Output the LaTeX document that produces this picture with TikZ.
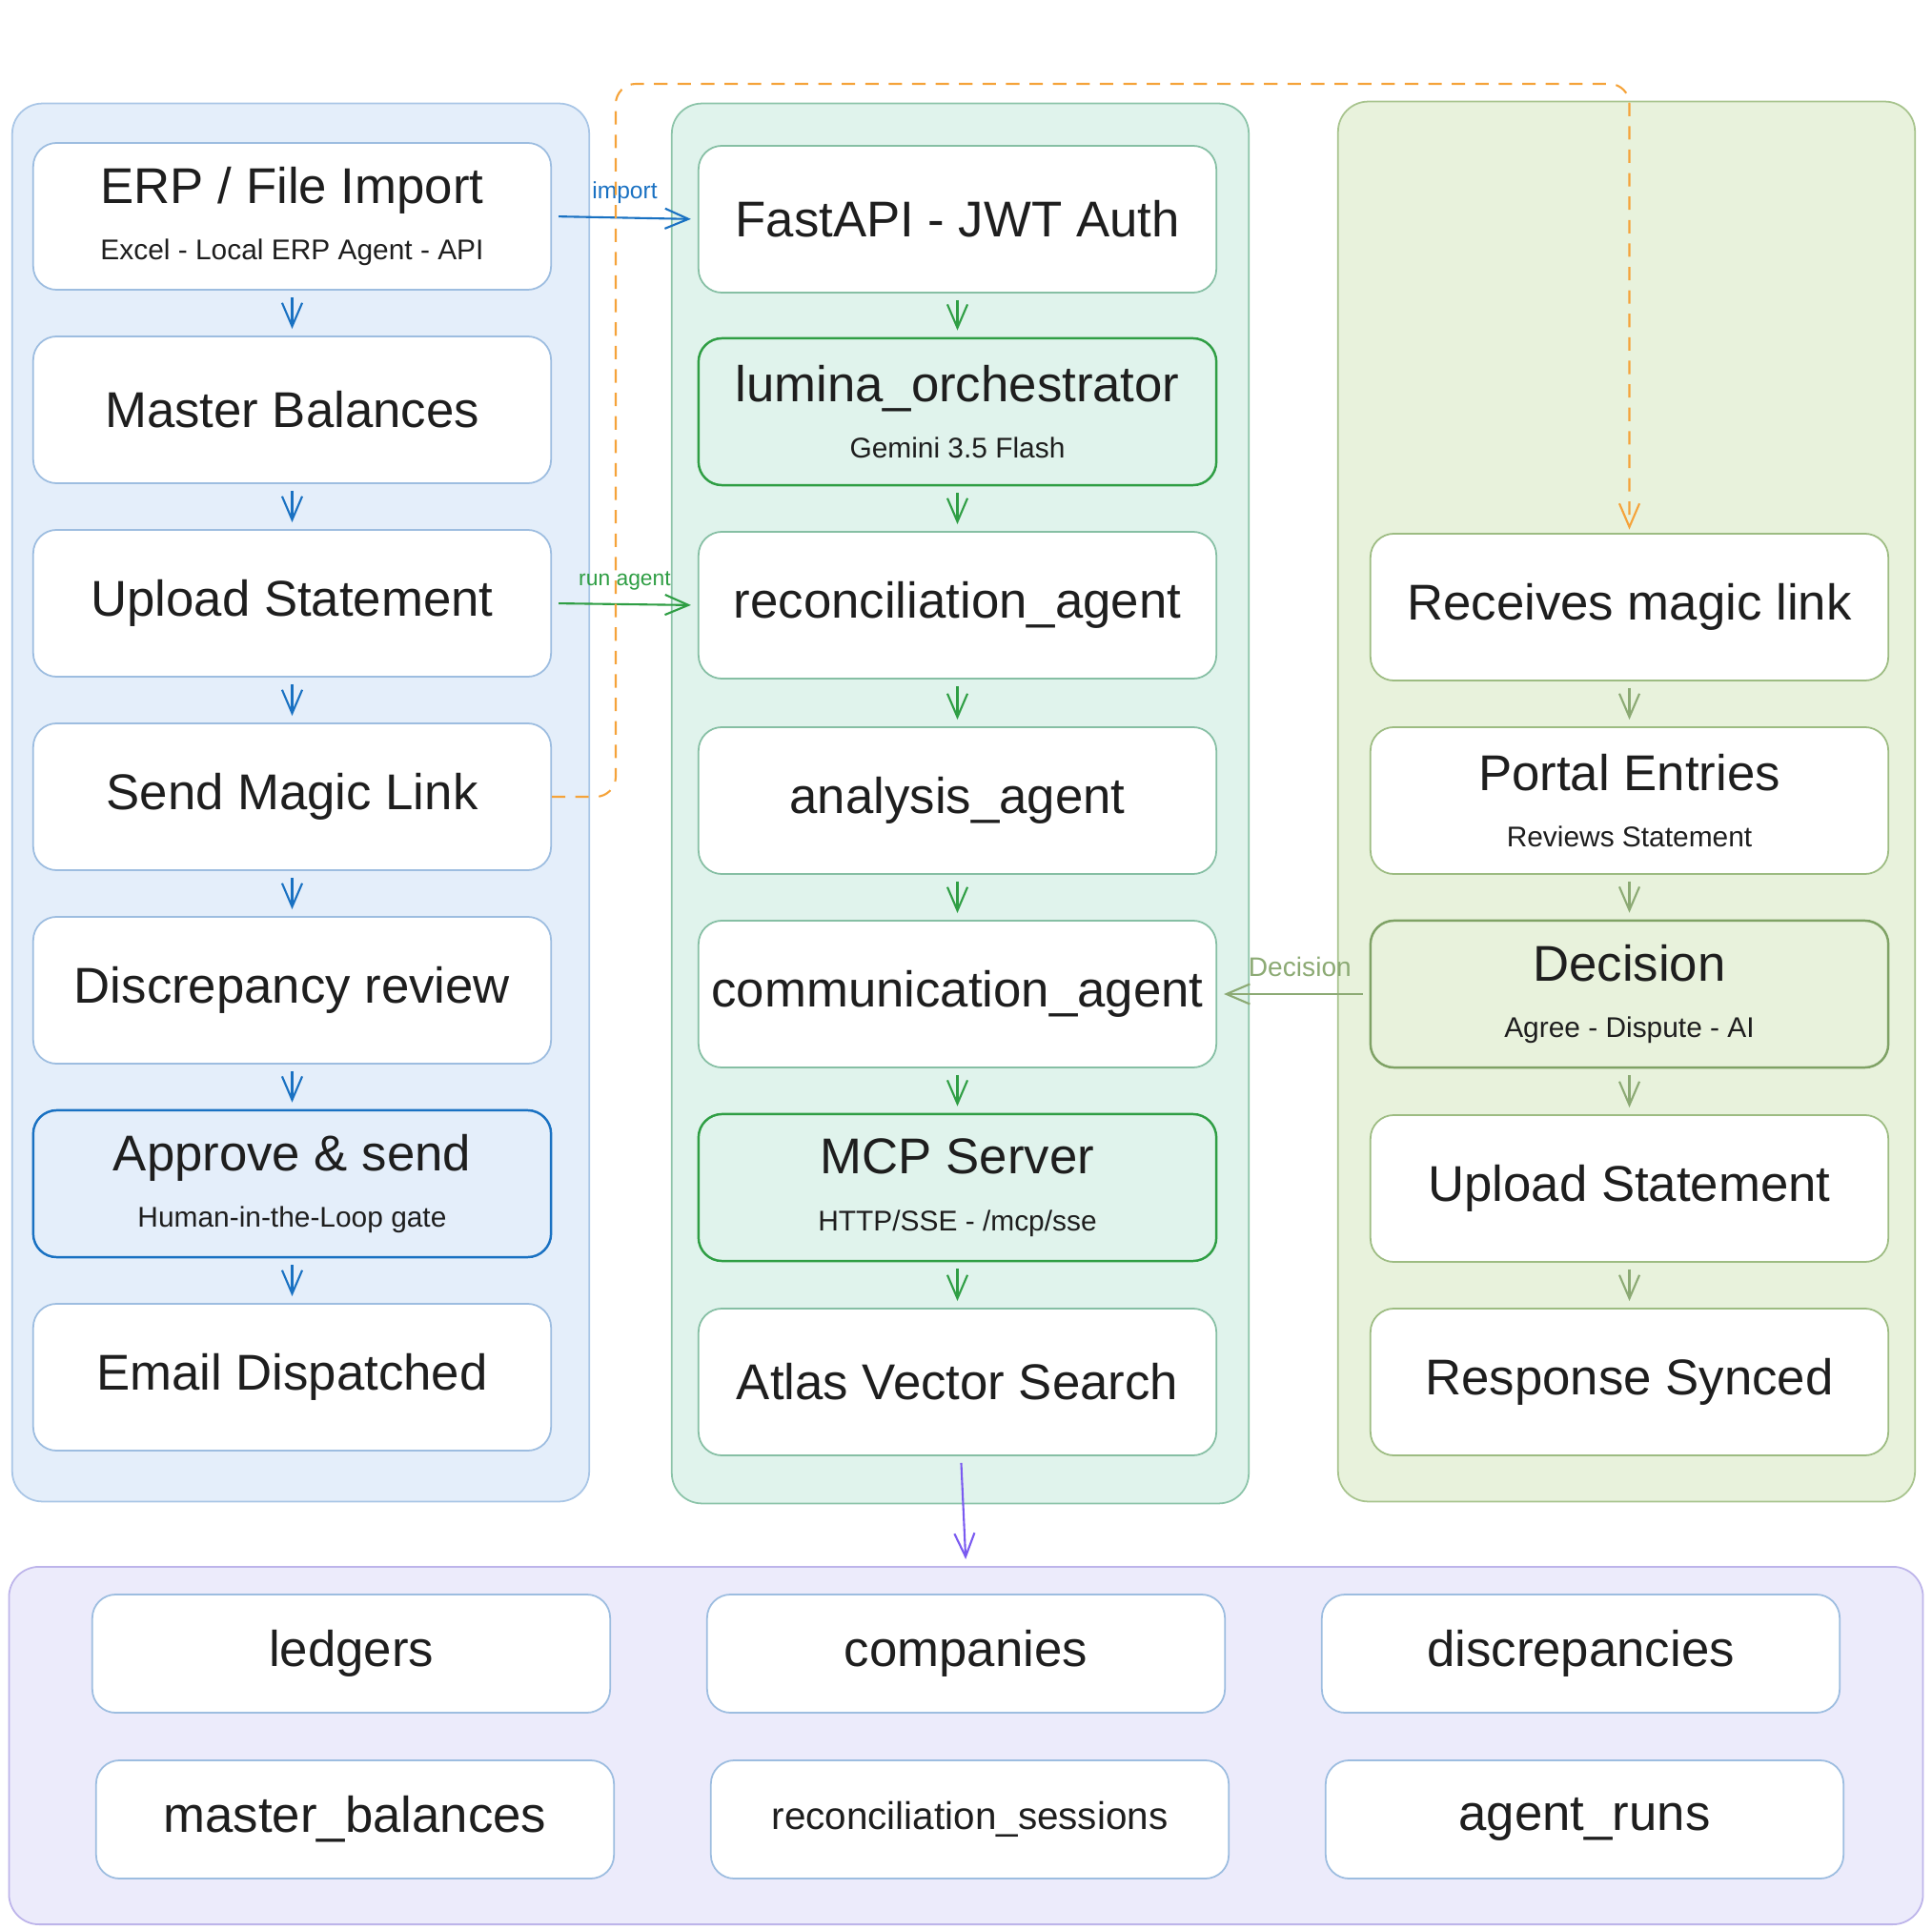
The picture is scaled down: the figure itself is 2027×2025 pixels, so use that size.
\documentclass[tikz,border=0pt]{standalone}
\usepackage{fontspec}
\setmainfont{Liberation Sans}
\usetikzlibrary{arrows.meta}

\definecolor{ink}{HTML}{1E1E1E}
\definecolor{bluefill}{HTML}{E4EEFA}
\definecolor{bluelane}{HTML}{A9C6E6}
\definecolor{bluebd}{HTML}{9DBDE0}
\definecolor{bluedark}{HTML}{1971C2}
\definecolor{tealfill}{HTML}{E0F3EC}
\definecolor{teallane}{HTML}{8CC4A9}
\definecolor{tealbd}{HTML}{86BFA4}
\definecolor{greendark}{HTML}{2F9E44}
\definecolor{olivefill}{HTML}{E8F2DC}
\definecolor{olivelane}{HTML}{A8C48E}
\definecolor{olivebd}{HTML}{9DBC82}
\definecolor{olivedark}{HTML}{7FA265}
\definecolor{olivearrow}{HTML}{8CAA74}
\definecolor{lavfill}{HTML}{ECEBFB}
\definecolor{lavlane}{HTML}{BDB4EA}
\definecolor{purplearrow}{HTML}{7A5AF0}
\definecolor{magicorange}{HTML}{F5A33A}

\newcommand\boxfont{\fontsize{15}{18}\selectfont}
\newcommand\subline[1]{\\[-1pt]{\fontsize{8.5}{10}\selectfont #1}}

\tikzset{
  lane/.style={rounded corners=9pt, line width=0.5pt, inner sep=0pt},
  box/.style={draw=#1, fill=white, rounded corners=7pt, line width=0.5pt,
    minimum width=5.43cm, minimum height=1.54cm, align=center, text=ink, font=\boxfont},
  table/.style={box=bluebd, minimum height=1.24cm},
  flow/.style={draw=#1, line width=0.6pt, -{Straight Barb[length=7pt,width=6pt]},
    shorten <=2pt, shorten >=2pt},
  linklabel/.style={font=\fontsize{7}{8}\selectfont, inner sep=1pt},
  magic/.style={draw=magicorange, line width=0.6pt, dash pattern=on 4pt off 3pt,
    rounded corners=6pt, -{Straight Barb[length=7pt,width=6pt]}, shorten >=1pt}
}

\begin{document}
\begin{tikzpicture}[x=0.01cm, y=-0.01cm]
\useasboundingbox (0,0) rectangle (2027,2025);

% lanes
\node[lane, fill=bluefill, draw=bluelane, minimum width=6.05cm, minimum height=14.66cm] (userlane) at (315.5,842) {};
\node[lane, fill=tealfill, draw=teallane, minimum width=6.05cm, minimum height=14.68cm] (apilane) at (1007.5,843) {};
\node[lane, fill=olivefill, draw=olivelane, minimum width=6.05cm, minimum height=14.68cm] (portallane) at (1706.5,841) {};
\node[lane, fill=lavfill, draw=lavlane, minimum width=20.07cm, minimum height=3.75cm] (dblane) at (1013.5,1831.5) {};

% user side
\node[box=bluebd] (erp) at (306.5,227) {ERP / File Import\subline{Excel - Local ERP Agent - API}};
\node[box=bluebd] (masterbal) at (306.5,430) {Master Balances};
\node[box=bluebd] (uploadL) at (306.5,633) {Upload Statement};
\node[box=bluebd] (sendlink) at (306.5,836) {Send Magic Link};
\node[box=bluebd] (discrev) at (306.5,1039) {Discrepancy review};
\node[box=bluedark, fill=bluefill, line width=0.7pt] (approve) at (306.5,1242) {Approve \& send\subline{Human-in-the-Loop gate}};
\node[box=bluebd] (emaildisp) at (306.5,1445) {Email Dispatched};

% backend
\node[box=tealbd] (fastapi) at (1004.5,230) {FastAPI - JWT Auth};
\node[box=greendark, fill=tealfill, line width=0.7pt] (orch) at (1004.5,432) {lumina\_orchestrator\subline{Gemini 3.5 Flash}};
\node[box=tealbd] (recagent) at (1004.5,635) {reconciliation\_agent};
\node[box=tealbd] (analysis) at (1004.5,840) {analysis\_agent};
\node[box=tealbd] (commagent) at (1004.5,1043) {communication\_agent};
\node[box=greendark, fill=tealfill, line width=0.7pt] (mcp) at (1004.5,1246) {MCP Server\subline{HTTP/SSE - /mcp/sse}};
\node[box=tealbd] (atlas) at (1004.5,1450) {Atlas Vector Search};

% counterparty portal
\node[box=olivebd] (magiclink) at (1709.5,637) {Receives magic link};
\node[box=olivebd] (portal) at (1709.5,840) {Portal Entries\subline{Reviews Statement}};
\node[box=olivedark, fill=olivefill, line width=0.7pt] (decision) at (1709.5,1043) {Decision\subline{Agree - Dispute - AI}};
\node[box=olivebd] (uploadR) at (1709.5,1247) {Upload Statement};
\node[box=olivebd] (synced) at (1709.5,1450) {Response Synced};

% collections
\node[table] (ledgers) at (368.5,1735) {ledgers};
\node[table] (companies) at (1013.5,1735) {companies};
\node[table] (discrep) at (1658.5,1735) {discrepancies};
\node[table] (mbal) at (372.5,1909) {master\_balances};
\node[table, font=\fontsize{11.5}{14}\selectfont] (recsess) at (1017.5,1909) {reconciliation\_sessions};
\node[table] (agentruns) at (1662.5,1909) {agent\_runs};

% flows down each lane
\foreach \a/\b in {erp/masterbal, masterbal/uploadL, uploadL/sendlink, sendlink/discrev, discrev/approve, approve/emaildisp}
  \draw[flow=bluedark] (\a) -- (\b);
\foreach \a/\b in {fastapi/orch, orch/recagent, recagent/analysis, analysis/commagent, commagent/mcp, mcp/atlas}
  \draw[flow=greendark] (\a) -- (\b);
\foreach \a/\b in {magiclink/portal, portal/decision, decision/uploadR, uploadR/synced}
  \draw[flow=olivearrow] (\a) -- (\b);

% cross-lane links
\draw[flow=bluedark] (erp.east) -- node[above, linklabel, text=bluedark, yshift=3pt] {import} (fastapi.west);
\draw[flow=greendark] (uploadL.east) -- node[above, linklabel, text=greendark, yshift=3pt, font=\fontsize{6.5}{8}\selectfont] {run agent} (recagent.west);
\draw[flow=olivearrow] (decision.west) -- node[above, linklabel, text=olivearrow, yshift=4pt, xshift=2pt, font=\fontsize{8}{9}\selectfont] {Decision} (commagent.east);
\draw[magic] (sendlink.east) -| (646,88) -| (magiclink.north);
\draw[flow=purplearrow] (atlas) -- (dblane.north);

\end{tikzpicture}
\end{document}
